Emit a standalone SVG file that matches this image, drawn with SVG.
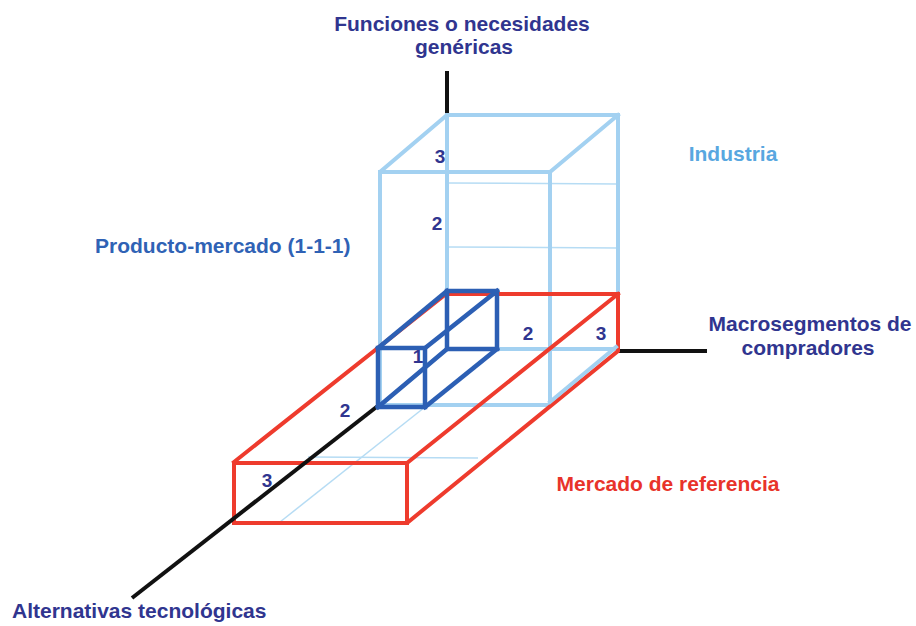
<svg xmlns="http://www.w3.org/2000/svg" width="916" height="626" viewBox="0 0 916 626">
<style>
.lb{stroke:#a3d1f1;stroke-width:4;fill:none;stroke-linecap:square}
.lbt{stroke:#b6dcf4;stroke-width:1.5;fill:none}
.rd{stroke:#ee3b2d;stroke-width:4;fill:none;stroke-linecap:square}
.db{stroke:#2c5fb4;stroke-width:4.5;fill:none;stroke-linecap:square}
.ax{stroke:#111;stroke-width:4;fill:none}
text{font-family:"Liberation Sans",Arial,sans-serif;font-weight:bold}
.nv{fill:#30358f}
.num{fill:#30358f;font-size:19px;text-anchor:middle}
</style>
<rect width="916" height="626" fill="#fff"/>
<g id="connectors">
<line class="ax" x1="447" y1="71" x2="447" y2="116"/>
<line class="ax" x1="618" y1="351" x2="707" y2="351"/>
</g>
<g id="industria">
<line class="lbt" x1="447" y1="183" x2="618" y2="184"/>
<line class="lbt" x1="447" y1="247" x2="618" y2="248"/>
<line class="lbt" x1="425" y1="407" x2="280" y2="522"/>
<line class="lbt" x1="308" y1="457" x2="478" y2="458"/>
<polyline class="lb" points="380,405 380,172 447,115 618,115 618,349 447,349 447,115"/>
<polyline class="lb" points="380,172 550,172 618,115"/>
<line class="lb" x1="550" y1="172" x2="550" y2="405"/>
<line class="lb" x1="380" y1="405" x2="550" y2="405"/>
<text x="733" y="161" font-size="21" fill="#58a7e0" text-anchor="middle">Industria</text>
</g>
<g id="mercado-referencia">
<polyline class="rd" points="234,462 446,294 618,294 618,351 407,523 234,523 234,463 407,463 618,294"/>
<line class="rd" x1="407" y1="463" x2="407" y2="523"/>
<line class="lb" x1="616" y1="347" x2="550" y2="402" stroke-width="3"/>
<text x="668" y="491" font-size="21" fill="#e8332a" text-anchor="middle">Mercado de referencia</text>
</g>
<g id="axis-diagonal">
<line class="ax" x1="379" y1="405" x2="132" y2="598"/>
</g>
<g id="producto-mercado">
<rect class="db" x="447" y="291" width="50" height="58"/>
<rect class="db" x="378" y="348" width="47" height="59"/>
<line class="db" x1="447" y1="291" x2="378" y2="348"/>
<line class="db" x1="497" y1="291" x2="425" y2="348"/>
<line class="db" x1="497" y1="349" x2="425" y2="407"/>
<line class="db" x1="447" y1="349" x2="378" y2="407"/>
<text x="95" y="253" font-size="21" fill="#2f62b5">Producto-mercado (1-1-1)</text>
</g>
<g id="labels">
<text class="nv" x="462" y="31" font-size="21" text-anchor="middle">Funciones o necesidades</text>
<text class="nv" x="464" y="54" font-size="21" text-anchor="middle">genéricas</text>
<text class="nv" x="810" y="331" font-size="21" text-anchor="middle">Macrosegmentos de</text>
<text class="nv" x="808" y="355" font-size="21" text-anchor="middle">compradores</text>
<text class="nv" x="12" y="618" font-size="21">Alternativas tecnológicas</text>
</g>
<g id="numbers">
<text class="num" x="440" y="163">3</text>
<text class="num" x="437" y="230">2</text>
<text class="num" x="418" y="363" font-size="13">1</text>
<text class="num" x="528" y="340">2</text>
<text class="num" x="601" y="340">3</text>
<text class="num" x="345" y="417">2</text>
<text class="num" x="267" y="487">3</text>
</g>
</svg>
